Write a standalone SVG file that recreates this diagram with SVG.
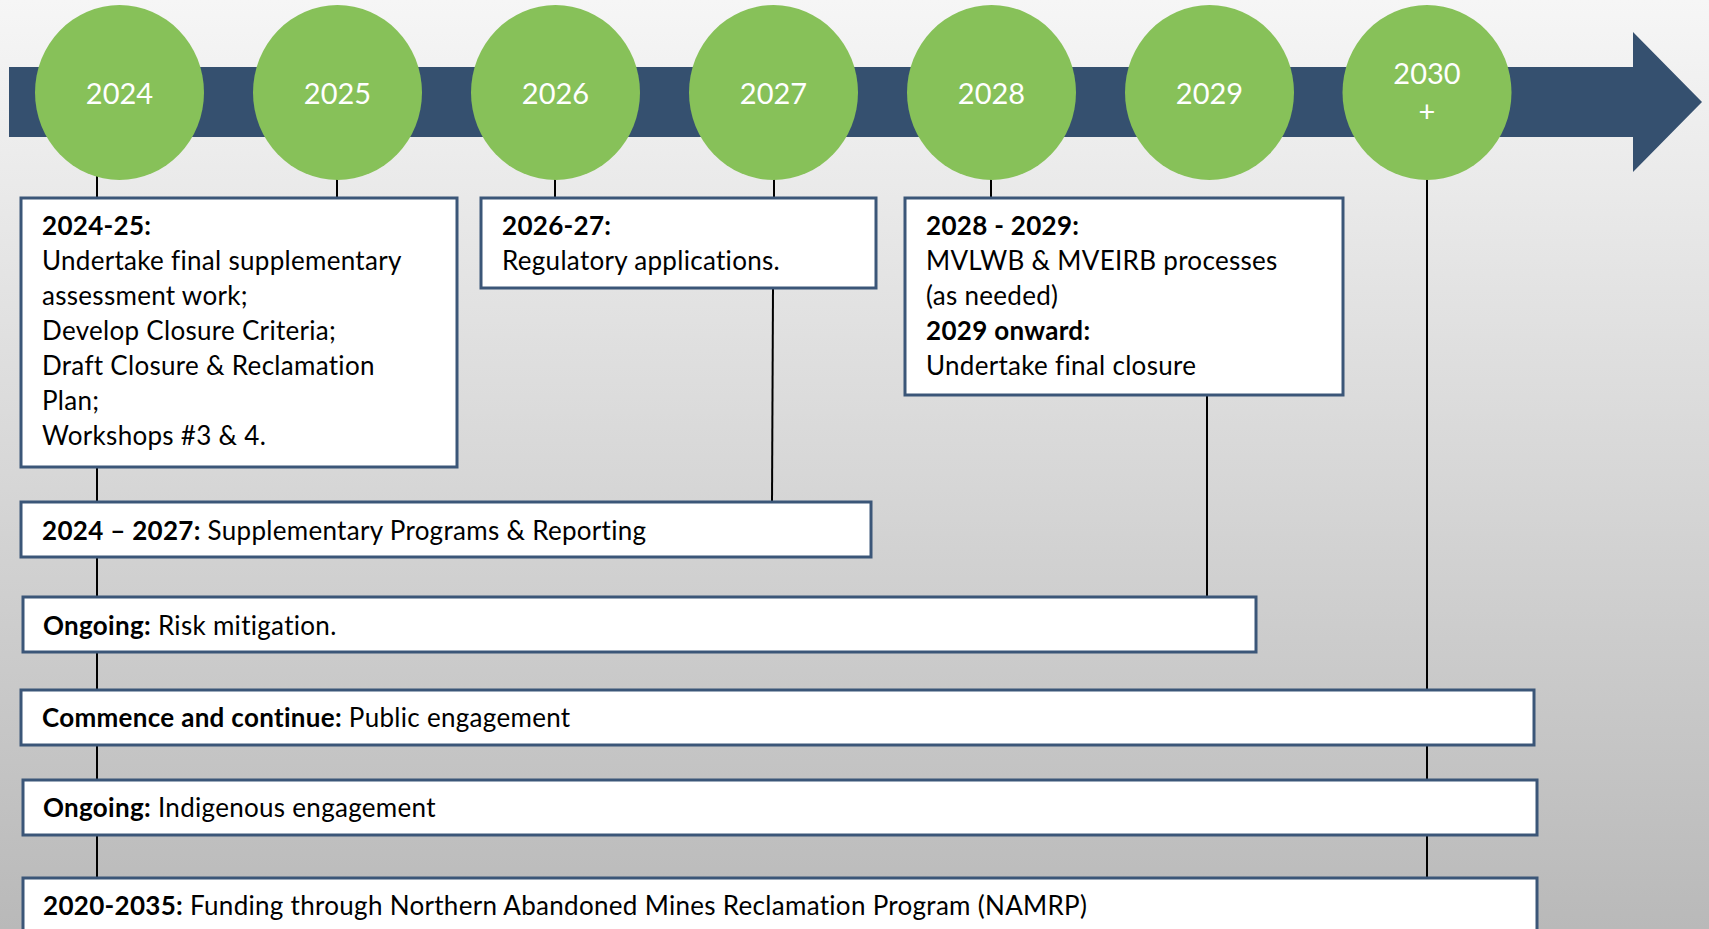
<svg xmlns="http://www.w3.org/2000/svg" width="1709" height="929" viewBox="0 0 1709 929">
<defs>
<linearGradient id="bg" x1="0" y1="0" x2="0" y2="1">
<stop offset="0" stop-color="#f6f6f6"/>
<stop offset="1" stop-color="#b9b9b9"/>
</linearGradient>
<style>
.yr{fill:#87c159}
.yt{font-family:Lato,"Open Sans",sans-serif;font-size:29px;fill:#ffffff;text-anchor:middle}
.box{fill:#ffffff;stroke:#3b5678;stroke-width:3}
.t{font-family:Lato,"Open Sans",sans-serif;font-size:26px;letter-spacing:0.3px;fill:#000000}
.b{font-weight:bold}
.ln{stroke:#000000;stroke-width:2;fill:none}
</style>
</defs>
<rect x="0" y="0" width="1709" height="929" fill="url(#bg)"/>
<g id="timeline-arrow">
<path d="M9 67 H1633 V32 L1702 102 L1633 172 V137 H9 Z" fill="#35506f"/>
</g>
<g id="connectors">
<line class="ln" x1="97" y1="170" x2="97" y2="198"/>
<line class="ln" x1="97" y1="467" x2="97" y2="502"/>
<line class="ln" x1="97" y1="557" x2="97" y2="597"/>
<line class="ln" x1="97" y1="652" x2="97" y2="690"/>
<line class="ln" x1="97" y1="745" x2="97" y2="780"/>
<line class="ln" x1="97" y1="835" x2="97" y2="878"/>
<line class="ln" x1="337" y1="175" x2="337" y2="198"/>
<line class="ln" x1="555" y1="175" x2="555" y2="198"/>
<line class="ln" x1="774" y1="175" x2="774" y2="198"/>
<line class="ln" x1="773" y1="288" x2="772" y2="502"/>
<line class="ln" x1="991" y1="175" x2="991" y2="198"/>
<line class="ln" x1="1207" y1="395" x2="1207" y2="597"/>
<line class="ln" x1="1427" y1="175" x2="1427" y2="690"/>
<line class="ln" x1="1427" y1="745" x2="1427" y2="780"/>
<line class="ln" x1="1427" y1="835" x2="1427" y2="878"/>
</g>
<g id="y2024"><ellipse class="yr" cx="119.5" cy="92.5" rx="84.5" ry="87.5"/><text class="yt" x="119.5" y="104">2024</text></g>
<g id="y2025"><ellipse class="yr" cx="337.5" cy="92.5" rx="84.5" ry="87.5"/><text class="yt" x="337.5" y="104">2025</text></g>
<g id="y2026"><ellipse class="yr" cx="555.5" cy="92.5" rx="84.5" ry="87.5"/><text class="yt" x="555.5" y="104">2026</text></g>
<g id="y2027"><ellipse class="yr" cx="773.5" cy="92.5" rx="84.5" ry="87.5"/><text class="yt" x="773.5" y="104">2027</text></g>
<g id="y2028"><ellipse class="yr" cx="991.5" cy="92.5" rx="84.5" ry="87.5"/><text class="yt" x="991.5" y="104">2028</text></g>
<g id="y2029"><ellipse class="yr" cx="1209.5" cy="92.5" rx="84.5" ry="87.5"/><text class="yt" x="1209.5" y="104">2029</text></g>
<g id="y2030"><ellipse class="yr" cx="1427" cy="92.5" rx="84.5" ry="87.5"/><text class="yt" x="1427" y="84">2030</text><text class="yt" x="1427" y="122">+</text></g>
<g id="box-2024-25">
<rect class="box" x="21" y="198" width="436" height="269"/>
<text class="t b" x="42" y="235">2024-25:</text>
<text class="t" x="42" y="270">Undertake final supplementary</text>
<text class="t" x="42" y="305">assessment work;</text>
<text class="t" x="42" y="340">Develop Closure Criteria;</text>
<text class="t" x="42" y="375">Draft Closure &amp; Reclamation</text>
<text class="t" x="42" y="410">Plan;</text>
<text class="t" x="42" y="445">Workshops #3 &amp; 4.</text>
</g>
<g id="box-2026-27">
<rect class="box" x="481" y="198" width="395" height="90"/>
<text class="t b" x="502" y="235">2026-27:</text>
<text class="t" x="502" y="270">Regulatory applications.</text>
</g>
<g id="box-2028-29">
<rect class="box" x="905" y="198" width="438" height="197"/>
<text class="t b" x="926" y="235">2028 - 2029:</text>
<text class="t" x="926" y="270">MVLWB &amp; MVEIRB processes</text>
<text class="t" x="926" y="305">(as needed)</text>
<text class="t b" x="926" y="340">2029 onward:</text>
<text class="t" x="926" y="375">Undertake final closure</text>
</g>
<g id="box-2024-2027">
<rect class="box" x="21" y="502" width="850" height="55"/>
<text class="t" x="42" y="540"><tspan class="b">2024 – 2027:</tspan> Supplementary Programs &amp; Reporting</text>
</g>
<g id="box-risk">
<rect class="box" x="23" y="597" width="1233" height="55"/>
<text class="t" x="43" y="635"><tspan class="b">Ongoing:</tspan> Risk mitigation.</text>
</g>
<g id="box-public">
<rect class="box" x="21" y="690" width="1513" height="55"/>
<text class="t" x="42" y="727"><tspan class="b">Commence and continue:</tspan> Public engagement</text>
</g>
<g id="box-indigenous">
<rect class="box" x="23" y="780" width="1514" height="55"/>
<text class="t" x="43" y="817"><tspan class="b">Ongoing:</tspan> Indigenous engagement</text>
</g>
<g id="box-namrp">
<rect class="box" x="23" y="878" width="1514" height="70"/>
<text class="t" x="43" y="915"><tspan class="b">2020-2035:</tspan> Funding through Northern Abandoned Mines Reclamation Program (NAMRP)</text>
</g>
</svg>
